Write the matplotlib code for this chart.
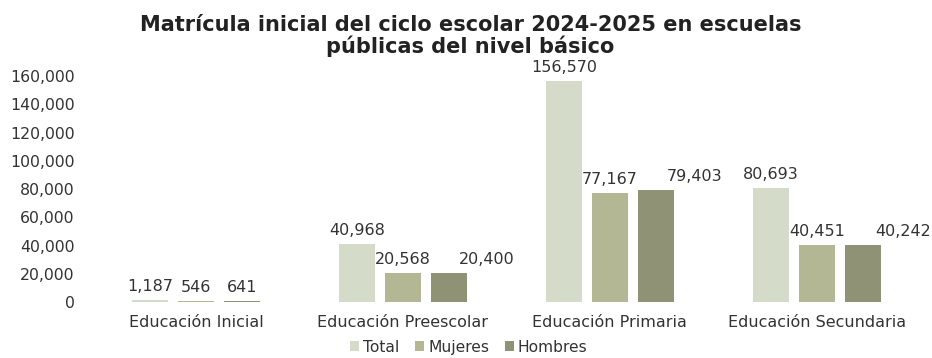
import matplotlib.pyplot as plt
import numpy as np

categorias = ['Educación Inicial', 'Educación Preescolar', 'Educación Primaria', 'Educación Secundaria']
total = [1187, 40968, 156570, 80693]
mujeres = [546, 20568, 77167, 40451]
hombres = [641, 20400, 79403, 40242]
series = ['Total', 'Mujeres', 'Hombres']
colores = ['#d4dbc8', '#b3b793', '#909275']

# desplazamiento horizontal (pt) de las etiquetas de Hombres, como en el original
desp_hombres = [0, 27, 28, 29]

plt.rcParams['font.family'] = 'DejaVu Sans'
texto = '#333333'

fig = plt.figure(figsize=(9.32, 3.58), dpi=100)
ax = fig.add_axes([0.0993, 0.1564, 0.888, 0.631])

x = np.arange(len(categorias))
ancho = 0.174
paso = 0.222

for i, (nombre, vals, c) in enumerate(zip(series, [total, mujeres, hombres], colores)):
    pos = x + (i - 1) * paso
    barras = ax.bar(pos, vals, ancho, color=c, label=nombre, zorder=2)
    for j, (p, v) in enumerate(zip(pos, vals)):
        dx = desp_hombres[j] if nombre == 'Hombres' else 0
        ax.annotate(f'{v:,}', (p, v), xytext=(dx, 10), textcoords='offset points',
                    ha='center', va='center', fontsize=11.5, color=texto,
                    annotation_clip=False)

ax.set_xlim(-0.5, 3.5)
ax.set_ylim(0, 160000)
ax.set_yticks(np.arange(0, 160001, 20000))
ax.yaxis.set_major_formatter(plt.FuncFormatter(lambda v, p: f'{int(v):,}'))
ax.set_xticks(x)
ax.set_xticklabels(categorias)
ax.tick_params(axis='y', length=0, pad=13, labelsize=11.3, labelcolor=texto)
ax.tick_params(axis='x', length=0, pad=9, labelsize=11.5, labelcolor=texto)
for s in ax.spines.values():
    s.set_visible(False)

fig.text(0.505, 0.899, 'Matrícula inicial del ciclo escolar 2024-2025 en escuelas\npúblicas del nivel básico',
         ha='center', va='center', fontsize=15, fontweight='bold', color='#222222', linespacing=1.05)

fig.legend(loc='center', bbox_to_anchor=(0.503, 0.03), ncol=3, frameon=False,
           fontsize=11.2, handlelength=0.6, handleheight=0.6, handletextpad=0.25,
           columnspacing=1.0, labelcolor=texto, borderpad=0.1)

fig.savefig('out.png', dpi=100)
